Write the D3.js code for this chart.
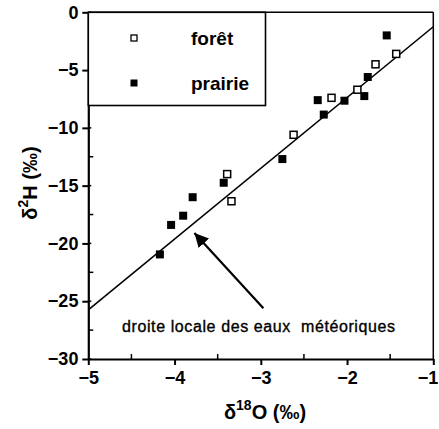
<!DOCTYPE html>
<html><head><meta charset="utf-8">
<script src="https://cdn.jsdelivr.net/npm/d3@7"></script>
<style>body{margin:0;background:#fff}svg{display:block}</style>
</head><body>
<svg id="c" width="439" height="429"></svg>
<script>
const foret = [[-1.43,-3.6],[-1.67,-4.5],[-1.88,-6.7],[-2.18,-7.4],[-2.62,-10.6],[-3.39,-14.0],[-3.34,-16.35]];
const prairie = [[-1.54,-2.0],[-1.76,-5.6],[-1.80,-7.25],[-2.03,-7.65],[-2.34,-7.6],[-2.27,-8.85],[-2.75,-12.7],[-3.43,-14.75],[-3.79,-16.0],[-3.90,-17.6],[-4.04,-18.4],[-4.17,-20.95]];
const lmwl = [[-5,-25.75],[-1,-1.25]];
const arrowPts = [[-2.97,-25.6],[-3.77,-19.1]];
const xTicks = [-5,-4,-3,-2,-1];
const yTicks = [0,-5,-10,-15,-20,-25,-30];
const xMinor = [-4.5,-3.5,-2.5,-1.5];
const yMinor = [-2.5,-7.5,-12.5,-17.5,-22.5,-27.5];
const legendLabels = ["forêt","prairie"];
const annotation = "droite locale des eaux  météoriques";

const svg = d3.select("#c");
const L=88.3, R=433.3, T=12.3, B=359;
const x = d3.scaleLinear().domain([-5,-1]).range([L,R]);
const y = d3.scaleLinear().domain([-30,0]).range([B,T]);
const font = "'Liberation Sans', Arial, Helvetica, sans-serif";

// frame top & right
svg.append("line").attr("x1",L).attr("x2",R).attr("y1",T).attr("y2",T).attr("stroke","#000").attr("stroke-width",1.5);
svg.append("line").attr("x1",R).attr("x2",R).attr("y1",T).attr("y2",B).attr("stroke","#000").attr("stroke-width",1.5);

// axes
const gx = svg.append("g").attr("transform",`translate(0,${B})`)
  .call(d3.axisBottom(x).tickValues(xTicks).tickFormat(d3.format("d")).tickSize(6).tickSizeOuter(0));
const gy = svg.append("g").attr("transform",`translate(${L},0)`)
  .call(d3.axisLeft(y).tickValues(yTicks).tickFormat(d3.format("d")).tickSize(6).tickSizeOuter(0));
[gx,gy].forEach(g=>{
  g.select(".domain").attr("stroke-width",2.2);
  g.selectAll(".tick line").attr("stroke-width",2);
  g.selectAll("text").attr("font-family",font).attr("font-weight","bold").attr("font-size",18).attr("fill","#000");
});
gx.selectAll("text").attr("dy","0.9em");
gx.selectAll(".tick").filter(d=>d===-1).select("text").attr("text-anchor","end").attr("x",4.5);
gy.selectAll("text").attr("dx","-0.05em");
// minor ticks inward
svg.append("g").selectAll("line").data(xMinor).join("line")
  .attr("x1",d=>x(d)).attr("x2",d=>x(d)).attr("y1",B).attr("y2",B-5).attr("stroke","#000").attr("stroke-width",1.5);
svg.append("g").selectAll("line").data(yMinor).join("line")
  .attr("x1",L).attr("x2",L+5).attr("y1",d=>y(d)).attr("y2",d=>y(d)).attr("stroke","#000").attr("stroke-width",1.5);
svg.append("g").selectAll("line").data(yTicks).join("line")
  .attr("x1",L).attr("x2",L+3).attr("y1",d=>y(d)).attr("y2",d=>y(d)).attr("stroke","#000").attr("stroke-width",1.5);

// line
svg.append("path").datum(lmwl).attr("d",d3.line().x(d=>x(d[0])).y(d=>y(d[1])))
  .attr("stroke","#000").attr("stroke-width",1.6).attr("fill","none");

// points
const s=8;
svg.append("g").selectAll("rect").data(prairie).join("rect")
  .attr("x",d=>x(d[0])-s/2).attr("y",d=>y(d[1])-s/2).attr("width",s).attr("height",s).attr("fill","#000");
const so=7;
svg.append("g").selectAll("rect").data(foret).join("rect")
  .attr("x",d=>x(d[0])-so/2).attr("y",d=>y(d[1])-so/2).attr("width",so).attr("height",so)
  .attr("fill","#fff").attr("stroke","#000").attr("stroke-width",1.5);

// arrow
svg.append("defs").append("marker").attr("id","ah").attr("viewBox","0 0 10 10").attr("refX",10).attr("refY",5)
  .attr("markerWidth",14).attr("markerHeight",14).attr("markerUnits","userSpaceOnUse").attr("orient","auto")
  .append("path").attr("d","M0,0L10,5L0,10z").attr("fill","#000");
svg.append("line").attr("x1",x(arrowPts[0][0])).attr("y1",y(arrowPts[0][1]))
  .attr("x2",x(arrowPts[1][0])).attr("y2",y(arrowPts[1][1]))
  .attr("stroke","#000").attr("stroke-width",2.2).attr("marker-end","url(#ah)");

svg.append("text").attr("x",122).attr("y",332).attr("font-family",font).attr("font-size",16)
  .attr("fill","#000").attr("stroke","#000").attr("stroke-width",0.35)
  .attr("textLength",273).attr("lengthAdjust","spacing")
  .attr("xml:space","preserve").style("white-space","pre").text(annotation);

// legend
svg.append("rect").attr("x",L).attr("y",T).attr("width",265.5-L).attr("height",105.5-T)
  .attr("fill","#fff").attr("stroke","#000").attr("stroke-width",1.6);
svg.append("rect").attr("x",134-3).attr("y",38-3).attr("width",6).attr("height",6).attr("fill","#fff").attr("stroke","#000").attr("stroke-width",1.3);
svg.append("rect").attr("x",134-3.5).attr("y",83-3.5).attr("width",7).attr("height",7).attr("fill","#000");
svg.append("g").selectAll("text").data(legendLabels).join("text")
  .attr("x",191).attr("y",(d,i)=>[45,90][i]).attr("font-family",font).attr("font-weight","bold").attr("font-size",19).text(d=>d);

// axis titles
const xt = svg.append("text").attr("x",265).attr("y",419).attr("text-anchor","middle").attr("font-family",font).attr("font-weight","bold").attr("font-size",20);
xt.append("tspan").text("δ");
xt.append("tspan").attr("font-size",14).attr("dy",-9).text("18");
xt.append("tspan").attr("dy",9).text("O (‰)");
const yt = svg.append("text").attr("transform","translate(37,183) rotate(-90)").attr("text-anchor","middle").attr("font-family",font).attr("font-weight","bold").attr("font-size",20);
yt.append("tspan").text("δ");
yt.append("tspan").attr("font-size",14).attr("dy",-9).text("2");
yt.append("tspan").attr("dy",9).text("H (‰)");
</script>
</body></html>
